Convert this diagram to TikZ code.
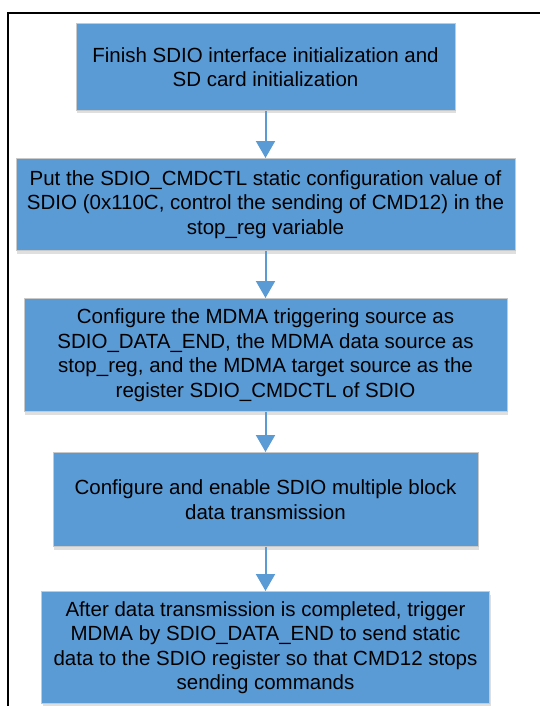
\documentclass[tikz,border=0pt]{standalone}
\usepackage{fontspec}
\setmainfont{Liberation Sans}
\usetikzlibrary{positioning,arrows.meta,shadows}
\definecolor{stepblue}{HTML}{5B9BD5}
\definecolor{stepedge}{HTML}{C9C9C9}
\begin{document}
\begin{tikzpicture}[x=1pt,y=-1pt,
    stepbox/.style={draw=stepedge, line width=1pt, fill=stepblue, inner sep=0pt,
        align=center, font=\fontsize{20.5}{24.5}\selectfont,
        drop shadow={shadow xshift=1pt, shadow yshift=-3pt, fill=black!25, opacity=.5}},
    flow/.style={draw=stepblue, line width=2pt, -{Triangle[width=19pt,length=17pt]}}]
    \useasboundingbox (0,0) rectangle (539,706);
    \draw[line width=1.5pt] (8,706) -- (8,13) -- (545,13);
    \node[stepbox, minimum width=379pt, minimum height=87pt] (finish) at (265.5,67)
        {Finish SDIO interface initialization and\\SD card initialization};
    \node[stepbox, minimum width=499pt, minimum height=92pt, below=47pt of finish] (store)
        {Put the SDIO\_CMDCTL static configuration value of\\SDIO (0x110C, control the sending of CMD12) in the\\stop\_reg variable};
    \node[stepbox, minimum width=483pt, minimum height=113pt, below=47pt of store] (mdma)
        {Configure the MDMA triggering source as\\SDIO\_DATA\_END, the MDMA data source as\\stop\_reg, and the MDMA target source as the\\register SDIO\_CMDCTL of SDIO};
    \node[stepbox, minimum width=425pt, minimum height=94pt, below=40pt of mdma] (enable)
        {Configure and enable SDIO multiple block\\data transmission};
    \node[stepbox, minimum width=448pt, minimum height=112pt, below=44pt of enable] (trigger)
        {After data transmission is completed, trigger\\MDMA by SDIO\_DATA\_END to send static\\data to the SDIO register so that CMD12 stops\\sending commands};
    \draw[flow] (finish) -- (store);
    \draw[flow] (store) -- (mdma);
    \draw[flow] (mdma) -- (enable);
    \draw[flow] (enable) -- (trigger);
\end{tikzpicture}
\end{document}
